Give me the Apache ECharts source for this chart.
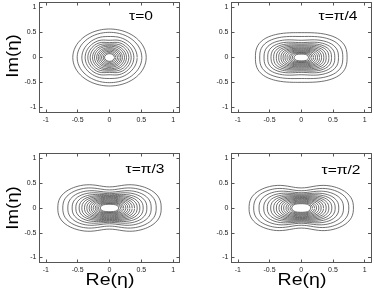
<!DOCTYPE html>
<html><head><meta charset="utf-8">
<script src="https://cdn.jsdelivr.net/npm/echarts@6/dist/echarts.min.js"></script>
<style>html,body{margin:0;padding:0;background:#fff}#c{width:374px;height:292px}</style>
</head><body><div id="c"></div>
<script>
// tick values
const xTicks = [-1, -0.5, 0, 0.5, 1];
const yTicks = [-1, -0.5, 0, 0.5, 1];
const panelTitles = ['τ=0', 'τ=π/4', 'τ=π/3', 'τ=π/2'];

// contour half-widths on the Re axis (a), half-heights at the lobes (b),
// half-heights on the Im axis at Re=0 (c)
const a0 = [0.577, 0.508, 0.435, 0.383, 0.341, 0.304, 0.267, 0.236, 0.204, 0.178, 0.152, 0.126, 0.100, 0.079];
const b0 = [0.570, 0.505, 0.435, 0.383, 0.341, 0.304, 0.267, 0.236, 0.204, 0.178, 0.152, 0.126, 0.100, 0.079];
const c0 = [0.570, 0.503, 0.420, 0.345, 0.298, 0.270, 0.248, 0.226, 0.198, 0.174, 0.150, 0.125, 0.099, 0.078];

const a1 = [0.723, 0.655, 0.587, 0.529, 0.477, 0.435, 0.393, 0.356, 0.320, 0.288, 0.257, 0.225, 0.194, 0.168, 0.141, 0.115];
const b1 = [0.500, 0.430, 0.370, 0.325, 0.290, 0.262, 0.236, 0.212, 0.190, 0.170, 0.150, 0.132, 0.115, 0.100, 0.085, 0.068];
const c1 = [0.497, 0.420, 0.345, 0.298, 0.270, 0.248, 0.228, 0.206, 0.185, 0.166, 0.147, 0.130, 0.113, 0.099, 0.084, 0.067];

const a2 = [0.812, 0.734, 0.655, 0.587, 0.529, 0.477, 0.435, 0.393, 0.356, 0.320, 0.288, 0.257, 0.225, 0.199, 0.173, 0.147];
const b2 = [0.507, 0.445, 0.390, 0.345, 0.305, 0.273, 0.247, 0.222, 0.200, 0.180, 0.160, 0.141, 0.123, 0.107, 0.092, 0.076];
const c2 = [0.426, 0.365, 0.318, 0.290, 0.268, 0.250, 0.233, 0.214, 0.195, 0.176, 0.157, 0.139, 0.121, 0.106, 0.091, 0.075];

const a3 = [0.823, 0.750, 0.666, 0.592, 0.535, 0.482, 0.435, 0.393, 0.351, 0.314, 0.278, 0.241, 0.210, 0.178, 0.152];
const b3 = [0.500, 0.440, 0.385, 0.340, 0.302, 0.272, 0.246, 0.222, 0.200, 0.180, 0.160, 0.140, 0.122, 0.104, 0.088];
const c3 = [0.405, 0.348, 0.308, 0.284, 0.264, 0.246, 0.229, 0.211, 0.193, 0.175, 0.156, 0.137, 0.120, 0.103, 0.087];

// per-panel shape: superellipse exponent and dent width (in Re units)
const shapeN = [2.0, 2.7, 2.5, 2.5];
const dentW = [0.13, 0.2, 0.26, 0.28];

const A = [a0, a1, a2, a3], B = [b0, b1, b2, b3], C = [c0, c1, c2, c3];

function contour(a, b, c, n, s) {
  const pts = [];
  const w = 1 - c / b;
  const N = 200;
  for (let i = 0; i <= N; i++) {
    const t = 2 * Math.PI * i / N;
    const ct = Math.cos(t), st = Math.sin(t);
    const u = Math.sign(ct) * Math.pow(Math.abs(ct), 2 / n);
    const v = Math.sign(st) * Math.pow(Math.abs(st), 2 / n);
    const x = a * u;
    const y = b * v * (1 - w * Math.exp(-(x / s) * (x / s)));
    pts.push([x, y]);
  }
  return pts;
}

const grids = [
  {left: 39.5, top: 2.5, width: 140, height: 110},
  {left: 231.5, top: 2.5, width: 139.5, height: 110},
  {left: 39.5, top: 153.5, width: 140, height: 109},
  {left: 231.5, top: 153.5, width: 139.5, height: 109}
];

const axColor = '#555';
const xAxes = [], yAxes = [], series = [];
grids.forEach((g, i) => {
  const base = {
    gridIndex: i, type: 'value', min: -1.1, max: 1.1,
    splitLine: {show: false},
    axisLine: {show: true, onZero: false, lineStyle: {color: axColor, width: 1}},
  };
  xAxes.push(Object.assign({}, base, {
    position: 'bottom',
    axisTick: {show: true, inside: true, length: 3, customValues: xTicks, lineStyle: {color: axColor}},
    axisLabel: {show: true, customValues: xTicks, fontSize: 7, color: '#222', margin: 4, fontFamily: 'Liberation Sans'}
  }));
  xAxes.push(Object.assign({}, base, {
    position: 'top',
    axisTick: {show: true, inside: true, length: 3, customValues: xTicks, lineStyle: {color: axColor}},
    axisLabel: {show: false}
  }));
  yAxes.push(Object.assign({}, base, {
    position: 'left',
    axisTick: {show: true, inside: true, length: 3, customValues: yTicks, lineStyle: {color: axColor}},
    axisLabel: {show: true, customValues: yTicks, fontSize: 7, color: '#222', margin: 3, fontFamily: 'Liberation Sans'}
  }));
  yAxes.push(Object.assign({}, base, {
    position: 'right',
    axisTick: {show: true, inside: true, length: 3, customValues: yTicks, lineStyle: {color: axColor}},
    axisLabel: {show: false}
  }));
  for (let k = 0; k < A[i].length; k++) {
    series.push({
      type: 'line', xAxisIndex: 2 * i, yAxisIndex: 2 * i,
      data: contour(A[i][k], B[i][k], C[i][k], shapeN[i], dentW[i]),
      showSymbol: false, silent: true, animation: false,
      lineStyle: {color: '#404040', width: 0.75}
    });
  }
});

const txt = (x, y, s, size, rot, sx) => ({
  type: 'text', x: x, y: y, rotation: rot || 0, scaleX: sx || 1, silent: true,
  style: {text: s, font: size + 'px "Liberation Sans"', fill: '#000', textAlign: 'center', textVerticalAlign: 'middle'}
});

const chart = echarts.init(document.getElementById('c'), null, {renderer: 'canvas'});
chart.setOption({
  animation: false,
  grid: grids,
  xAxis: xAxes,
  yAxis: yAxes,
  series: series,
  graphic: [
    txt(13, 56, 'Im(η)', 17, Math.PI / 2, 1.1),
    txt(13, 208, 'Im(η)', 17, Math.PI / 2, 1.1),
    txt(110, 280, 'Re(η)', 17, 0, 1.15),
    txt(302, 280, 'Re(η)', 17, 0, 1.15),
    txt(141, 17, panelTitles[0], 12, 0, 1.3),
    txt(338, 17, panelTitles[1], 12, 0, 1.3),
    txt(145, 170, panelTitles[2], 12, 0, 1.3),
    txt(341, 171, panelTitles[3], 12, 0, 1.3)
  ]
});
</script></body></html>
